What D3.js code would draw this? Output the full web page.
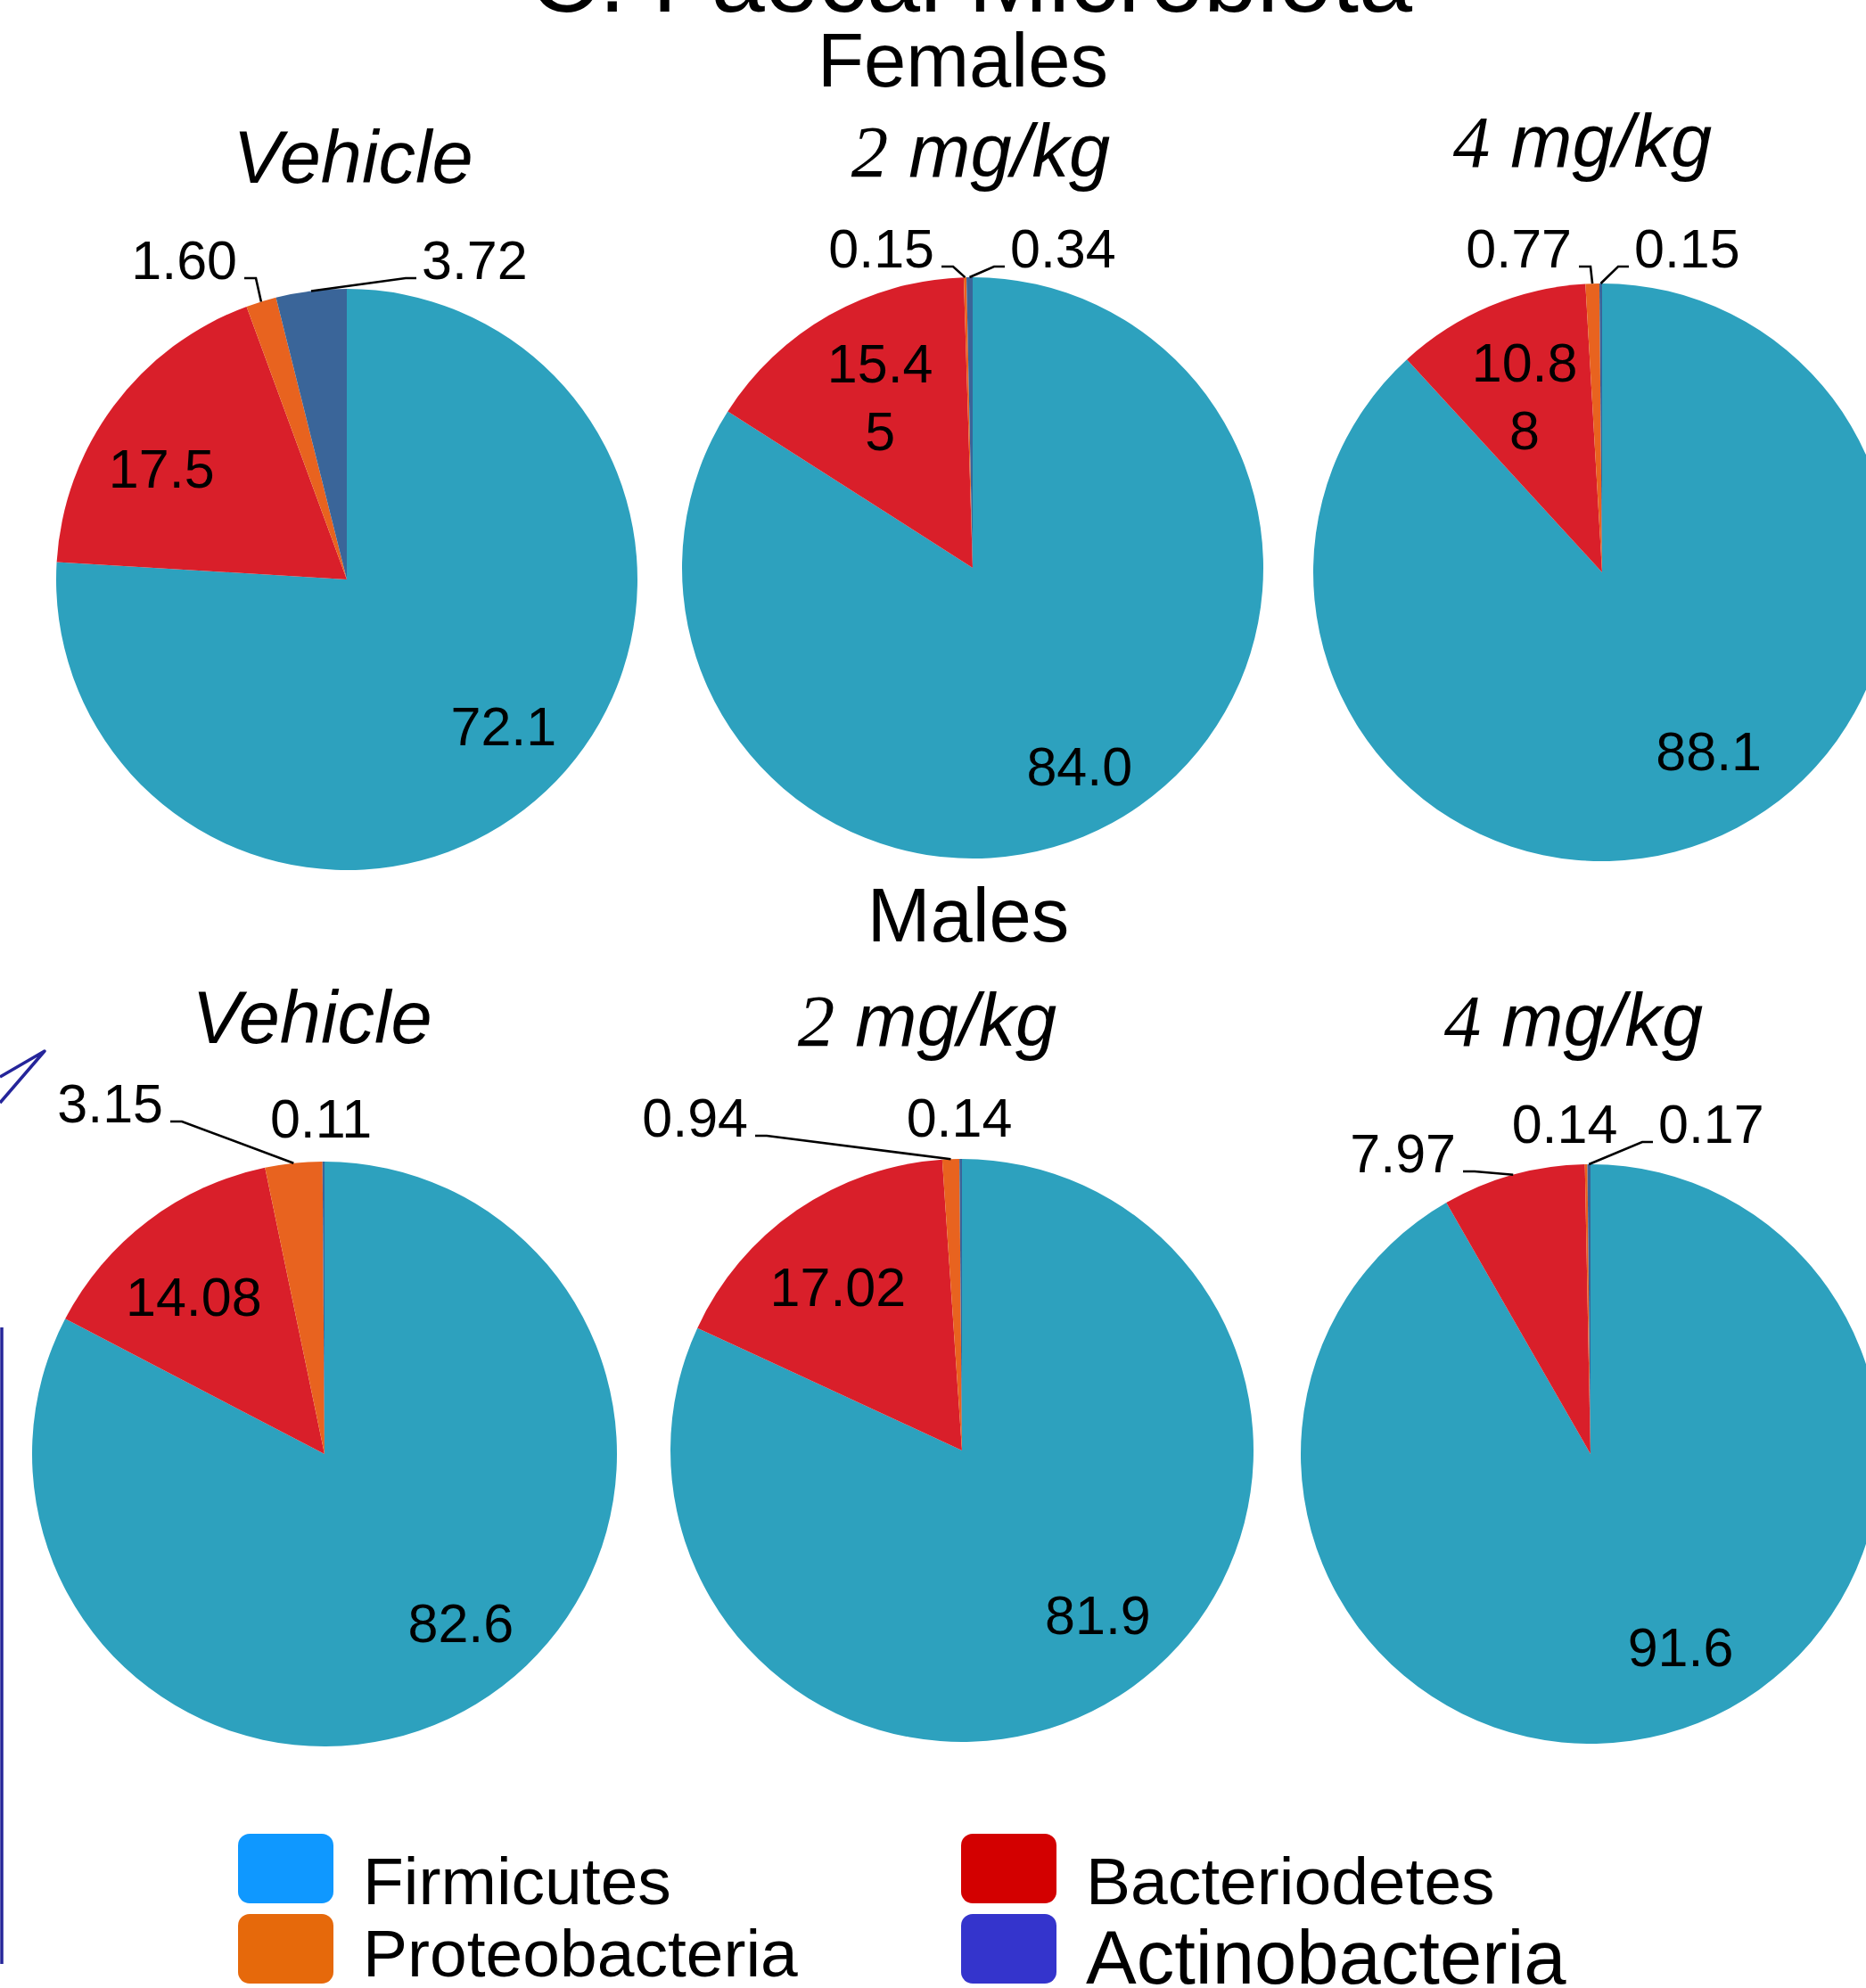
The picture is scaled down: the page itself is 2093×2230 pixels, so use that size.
<!DOCTYPE html>
<html>
<head>
<meta charset="utf-8">
<script src="https://cdn.jsdelivr.net/npm/d3@7"></script>
<style>
  html, body { margin: 0; padding: 0; background: #fff; }
  svg { display: block; }
  text { font-family: "Liberation Sans", Arial, sans-serif; fill: #000; }
</style>
</head>
<body>
<svg id="chart" width="2093" height="2230"></svg>
<script>
// ---- data -------------------------------------------------------------
const phyla = ["Firmicutes", "Bacteriodetes", "Proteobacteria", "Actinobacteria"];
const sexes = ["Females", "Males"];
const doses = ["Vehicle", "2 mg/kg", "4 mg/kg"];

// relative abundance (%) of each phylum, in the order of `phyla`
const femaleVehicle = [72.1, 17.5, 1.60, 3.72];
const female2mg     = [84.0, 15.45, 0.15, 0.34];
const female4mg     = [88.1, 10.88, 0.77, 0.15];
const maleVehicle   = [82.6, 14.08, 3.15, 0.11];
const male2mg       = [81.9, 17.02, 0.94, 0.14];
const male4mg       = [91.6, 7.97, 0.14, 0.17];

// decimals printed on each slice label
const femaleVehicleDigits = [1, 1, 2, 2];
const defaultDigits       = [1, 2, 2, 2];

// ---- styles & layout ----------------------------------------------------
const W = 2093, H = 2230;
const sliceColors  = ["#2da1be", "#d91f2a", "#e8631f", "#3a6599"];
const legendColors = ["#0f98ff", "#d30000", "#e6690b", "#3434cc"];
const labelSize = 61;

// inside: [phylum index, angle nudge (deg), radius fraction, chars per line]
// outside: [phylum index, dx, dy (baseline) from centre, anchor, leader?]
const panels = [
  { sex: 0, dose: 0, values: femaleVehicle, digits: femaleVehicleDigits,
    cx: 389, cy: 650, r: 326, title: [7, -445],
    inside: [[0, -3.7, 0.738], [1, -5.6, 0.744]],
    outside: [[2, -123, -337, "end", true], [3, 84, -337, "start", true]] },
  { sex: 0, dose: 1, values: female2mg, digits: defaultDigits,
    cx: 1091, cy: 637, r: 326, title: [9, -439],
    inside: [[0, 0.4, 0.775], [1, 1.2, 0.67, 4]],
    outside: [[2, -43, -337, "end", true], [3, 42, -337, "start", true]] },
  { sex: 0, dose: 2, values: female4mg, digits: defaultDigits,
    cx: 1797, cy: 642, r: 324, title: [-22, -455],
    inside: [[0, -9.6, 0.72], [1, -0.8, 0.667, 4]],
    outside: [[2, -34, -342, "end", true], [3, 36, -342, "start", true]] },
  { sex: 1, dose: 0, values: maleVehicle, digits: defaultDigits,
    cx: 364, cy: 1631, r: 328, title: [-14, -461],
    inside: [[0, -7.8, 0.74], [1, -2.6, 0.70]],
    outside: [[2, -181, -372, "end", true], [3, -4, -355, "middle", false]] },
  { sex: 1, dose: 1, values: male2mg, digits: defaultDigits,
    cx: 1079, cy: 1627, r: 327, title: [-39, -454],
    inside: [[0, -7.1, 0.73], [1, -2.6, 0.705]],
    outside: [[2, -240, -352, "end", true], [3, -3, -352, "middle", false]] },
  { sex: 1, dose: 2, values: male4mg, digits: defaultDigits,
    cx: 1784, cy: 1631, r: 325, title: [-19, -458],
    inside: [[0, -10.1, 0.735]],
    outside: [[1, -151, -316, "end", true], [2, -29, -349, "middle", false],
              [3, 76, -349, "start", true]] }
];

const svg = d3.select("#chart").attr("viewBox", `0 0 ${W} ${H}`);
svg.append("rect").attr("width", W).attr("height", H).attr("fill", "#fff");

// ---- headings -----------------------------------------------------------
svg.append("text").attr("x", 1089).attr("y", 13)
  .attr("text-anchor", "middle").attr("font-size", 108)
  .text("C. Faecal Microbiota");

const sexHeadings = [[1080, 97], [1086, 1056]];
sexes.forEach((s, i) => {
  svg.append("text").attr("x", sexHeadings[i][0]).attr("y", sexHeadings[i][1])
    .attr("text-anchor", "middle").attr("font-size", 85).text(s);
});

// ---- pies -----------------------------------------------------------------
const pie = d3.pie().sort(null).value(d => d);
const color = d3.scaleOrdinal().domain(phyla).range(sliceColors);

panels.forEach(p => {
  const g = svg.append("g").attr("transform", `translate(${p.cx},${p.cy})`);
  const arcs = pie(p.values);
  const arc = d3.arc().innerRadius(0).outerRadius(p.r);

  g.selectAll("path.slice").data(arcs).join("path")
    .attr("class", "slice")
    .attr("d", arc)
    .attr("fill", (d, i) => color(phyla[i]));

  const fmt = i => p.values[i].toFixed(p.digits[i]);

  // labels inside the larger slices
  p.inside.forEach(([i, nudge, frac, wrap]) => {
    const a = (arcs[i].startAngle + arcs[i].endAngle) / 2 + nudge * Math.PI / 180;
    const x = Math.sin(a) * p.r * frac, y = -Math.cos(a) * p.r * frac;
    const s = fmt(i);
    const lines = wrap ? [s.slice(0, wrap), s.slice(wrap)] : [s];
    const lh = labelSize * 1.25;
    const t = g.append("text").attr("text-anchor", "middle").attr("font-size", labelSize);
    lines.forEach((ln, k) => {
      t.append("tspan").attr("x", x)
        .attr("y", y + 0.36 * labelSize + (k - (lines.length - 1) / 2) * lh)
        .text(ln);
    });
  });

  // labels outside the thin slices, with leader lines to the rim
  p.outside.forEach(([i, dx, dy, anchor, leader]) => {
    g.append("text").attr("x", dx).attr("y", dy)
      .attr("text-anchor", anchor).attr("font-size", labelSize).text(fmt(i));
    if (!leader) return;
    const a = (arcs[i].startAngle + arcs[i].endAngle) / 2;
    const rim = [Math.sin(a) * p.r, -Math.cos(a) * p.r];
    const ly = dy - 1;
    const pts = anchor === "end"
      ? [[dx + 8, ly], [dx + 21, ly], rim]
      : [[dx - 6, ly], [dx - 18, ly], rim];
    g.append("path").attr("d", d3.line()(pts))
      .attr("fill", "none").attr("stroke", "#000").attr("stroke-width", 2.6);
  });

  // dose title
  const dose = doses[p.dose];
  const tt = g.append("text").attr("x", p.title[0]).attr("y", p.title[1])
    .attr("text-anchor", "middle").attr("font-size", 83).attr("font-style", "italic");
  const m = dose.match(/^(\d+)(.*)$/);
  if (m) {
    tt.append("tspan").attr("font-family", "'Liberation Serif', serif").text(m[1]);
    tt.append("tspan").text(m[2]);
  } else {
    tt.text(dose);
  }
});

// ---- legend ---------------------------------------------------------------
const legendCols = [267, 1078];
const legendRows = [2057, 2147];
const legendFont = [75, 75, 75, 85];
const legendBase = [2136, 2136, 2217, 2225];
phyla.forEach((name, i) => {
  const col = i % 2, row = Math.floor(i / 2);
  const x = legendCols[col], y = legendRows[row];
  svg.append("rect").attr("x", x).attr("y", y)
    .attr("width", 107).attr("height", 78).attr("rx", 13)
    .attr("fill", legendColors[i]);
  svg.append("text").attr("x", x + 140).attr("y", legendBase[i])
    .attr("font-size", legendFont[i]).text(name);
});

// ---- hand-drawn pen marks along the left edge ------------------------------
const pen = svg.append("g").attr("fill", "none").attr("stroke", "#25259a")
  .attr("stroke-width", 3.5).attr("stroke-linejoin", "round");
pen.append("path").attr("d", d3.line()([[0, 1237], [50, 1179], [0, 1208]]));
pen.append("path").attr("d", d3.line()([[2, 1489], [2, 2203]]));
</script>
</body>
</html>
